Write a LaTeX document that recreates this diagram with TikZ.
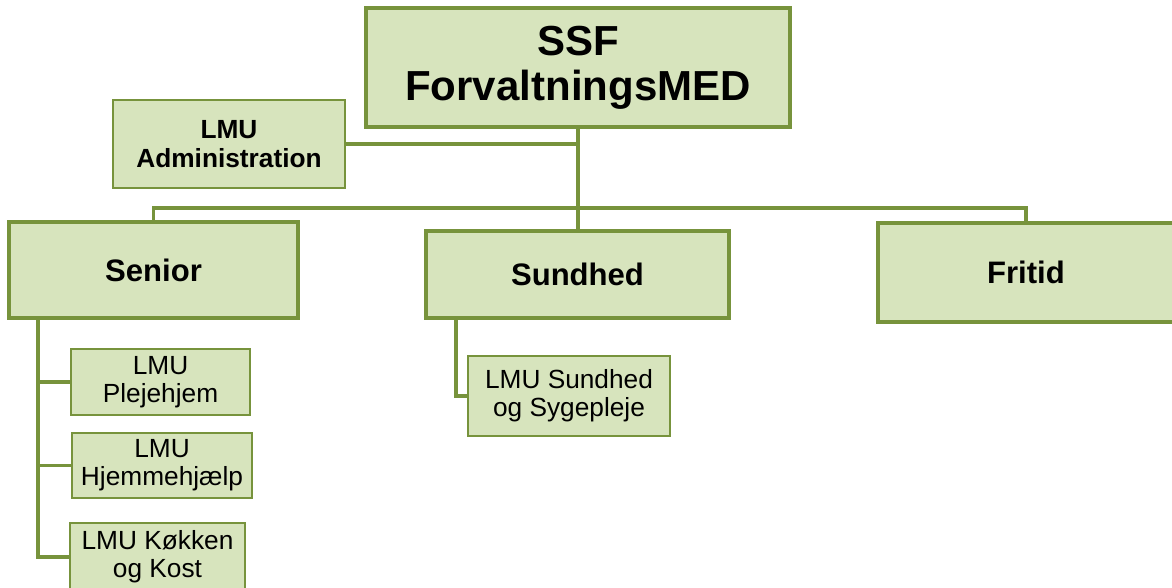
\documentclass[tikz,border=0pt]{standalone}
\usepackage{fontspec}
\setmainfont{Liberation Sans}
\definecolor{boxfill}{HTML}{D7E4BD}
\definecolor{boxline}{HTML}{77933C}

\begin{document}
\begin{tikzpicture}[x=0.75pt,y=-0.75pt,
  box/.style={draw=boxline,fill=boxfill,inner sep=0pt,align=center},
  headbox/.style={box,line width=2.6pt,font=\fontsize{31.5}{34}\selectfont\bfseries},
  areabox/.style={box,line width=2.4pt,font=\fontsize{23.3}{26}\selectfont\bfseries},
  adminbox/.style={box,line width=1.7pt,font=\fontsize{19.7}{21.5}\selectfont\bfseries},
  unitbox/.style={box,line width=1.7pt,font=\fontsize{19.7}{21}\selectfont},
  link/.style={draw=boxline,line width=2.8pt}]
\useasboundingbox (0,0) rectangle (1172,587);

% top level
\node[headbox,minimum width=318pt,minimum height=89.25pt] (top) at (578,67.5) {SSF\\ForvaltningsMED};
\node[adminbox,minimum width=174pt,minimum height=66pt] (admin) at (229,144) {LMU\\Administration};

% areas
\node[areabox,minimum width=216.75pt,minimum height=72pt] (senior) at (153.5,270) {Senior};
\node[areabox,minimum width=227.25pt,minimum height=65.25pt] (sundhed) at (577.5,274.5) {Sundhed};
\node[areabox,minimum width=222pt,minimum height=74.25pt] (fritid) at (1026,272.5) {Fritid};

% units under Senior
\node[unitbox,minimum width=134.25pt,minimum height=49.5pt] (pleje) at (160.5,382) {LMU\\Plejehjem};
\node[unitbox,minimum width=135pt,minimum height=48.75pt] (hjem) at (162,465.5) {LMU\\Hjemmehjælp};
\node[unitbox,minimum width=131.25pt,minimum height=51pt] (kokken) at (157.5,557) {LMU Køkken\\og Kost};

% unit under Sundhed
\node[unitbox,minimum width=151.5pt,minimum height=60pt] (sygepleje) at (569,396) {LMU Sundhed\\og Sygepleje};

% connectors
\coordinate (bus) at (0,208);
\coordinate (strunk) at (38,0);
\coordinate (htrunk) at (456,0);

\draw[link] (top.south) -- (top.south |- sundhed.north);
\draw[link] (admin.east) -- (admin.east -| top.south);
\draw[link] (senior.north) -- (senior.north |- bus) -| (fritid.north);

\draw[link] (strunk |- senior.south) |- (kokken.west);
\draw[link] (strunk |- pleje.west) -- (pleje.west);
\draw[link] (strunk |- hjem.west) -- (hjem.west);

\draw[link] (htrunk |- sundhed.south) |- (sygepleje.west);
\end{tikzpicture}
\end{document}
